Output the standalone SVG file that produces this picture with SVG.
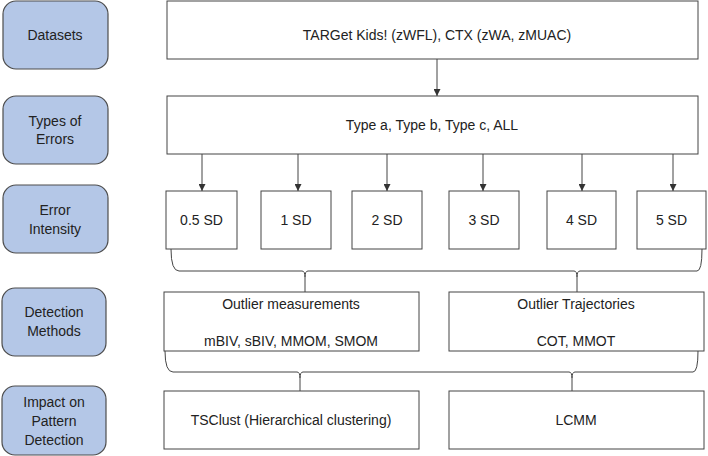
<svg xmlns="http://www.w3.org/2000/svg" width="708" height="456" viewBox="0 0 708 456">
<defs>
<style>
text{font-family:"Liberation Sans",Arial,sans-serif;font-size:14px;fill:#222;text-anchor:middle}
.cat{fill:#b4c7e7;stroke:#4d4d4d;stroke-width:1.2}
.box{fill:#fff;stroke:#444;stroke-width:1}
.ln{fill:none;stroke:#444;stroke-width:1}
</style>
<marker id="ah" viewBox="0 0 8 8" refX="8" refY="4" markerWidth="7" markerHeight="7" markerUnits="userSpaceOnUse" orient="auto">
<path d="M0,0 L8,4 L0,8 z" fill="#333"/>
</marker>
</defs>
<rect width="708" height="456" fill="#fff"/>
<g id="cat-datasets"><rect class="cat" x="3" y="1" width="105" height="68" rx="13"/><text x="55" y="40">Datasets</text></g>
<g id="cat-types"><rect class="cat" x="3" y="96" width="105" height="68" rx="13"/><text x="55" y="126">Types of</text><text x="55" y="144">Errors</text></g>
<g id="cat-intensity"><rect class="cat" x="3" y="185" width="105" height="68" rx="13"/><text x="55" y="215">Error</text><text x="55" y="234">Intensity</text></g>
<g id="cat-detection"><rect class="cat" x="2" y="288" width="104" height="68" rx="13"/><text x="54" y="317">Detection</text><text x="54" y="336">Methods</text></g>
<g id="cat-impact"><rect class="cat" x="2" y="386" width="104" height="69" rx="13"/><text x="54" y="407">Impact on</text><text x="54" y="426">Pattern</text><text x="54" y="445">Detection</text></g>

<g id="datasets"><rect class="box" x="167" y="1" width="531" height="58"/><text x="437" y="40">TARGet Kids! (zWFL), CTX (zWA, zMUAC)</text></g>
<g id="types"><rect class="box" x="167" y="96" width="531" height="58"/><text x="432" y="130">Type a, Type b, Type c, ALL</text></g>
<g id="sd05"><rect class="box" x="166" y="191" width="71" height="58"/><text x="201.5" y="225">0.5 SD</text></g>
<g id="sd1"><rect class="box" x="261" y="191" width="70" height="58"/><text x="296" y="225">1 SD</text></g>
<g id="sd2"><rect class="box" x="352" y="191" width="70" height="58"/><text x="387" y="225">2 SD</text></g>
<g id="sd3"><rect class="box" x="449" y="191" width="70" height="58"/><text x="484" y="225">3 SD</text></g>
<g id="sd4"><rect class="box" x="547" y="191" width="69" height="58"/><text x="581.5" y="225">4 SD</text></g>
<g id="sd5"><rect class="box" x="637" y="191" width="69" height="58"/><text x="671.5" y="225">5 SD</text></g>
<g id="outlier-meas"><rect class="box" x="164" y="292" width="255" height="59"/><text x="291" y="309">Outlier measurements</text><text x="291" y="346">mBIV, sBIV, MMOM, SMOM</text></g>
<g id="outlier-traj"><rect class="box" x="449" y="292" width="255" height="59"/><text x="576" y="309">Outlier Trajectories</text><text x="576" y="346">COT, MMOT</text></g>
<g id="tsclust"><rect class="box" x="164" y="391" width="255" height="58"/><text x="291" y="425">TSClust (Hierarchical clustering)</text></g>
<g id="lcmm"><rect class="box" x="449" y="391" width="255" height="58"/><text x="576" y="425">LCMM</text></g>

<g id="connectors" class="ln">
<path class="ln" d="M437 59 V96" marker-end="url(#ah)"/>
<path class="ln" d="M202 154 V191" marker-end="url(#ah)"/>
<path class="ln" d="M298 154 V191" marker-end="url(#ah)"/>
<path class="ln" d="M387 154 V191" marker-end="url(#ah)"/>
<path class="ln" d="M483 154 V191" marker-end="url(#ah)"/>
<path class="ln" d="M582 154 V191" marker-end="url(#ah)"/>
<path class="ln" d="M673 154 V191" marker-end="url(#ah)"/>
<path class="ln" d="M171 249 Q171 271 179 271 H302 Q305 271 305 277 Q305 271 308 271 H574 Q577 271 577 277 Q577 271 580 271 H697 Q702 271 702 249"/>
<path class="ln" d="M305 277 V292"/>
<path class="ln" d="M577 277 V292"/>
<path class="ln" d="M165 351 Q165 372 173 372 H297 Q300 372 300 378 Q300 372 303 372 H569 Q572 372 572 378 Q572 372 575 372 H693 Q698 372 698 351"/>
<path class="ln" d="M300 378 V391"/>
<path class="ln" d="M572 378 V391"/>
</g>
</svg>
